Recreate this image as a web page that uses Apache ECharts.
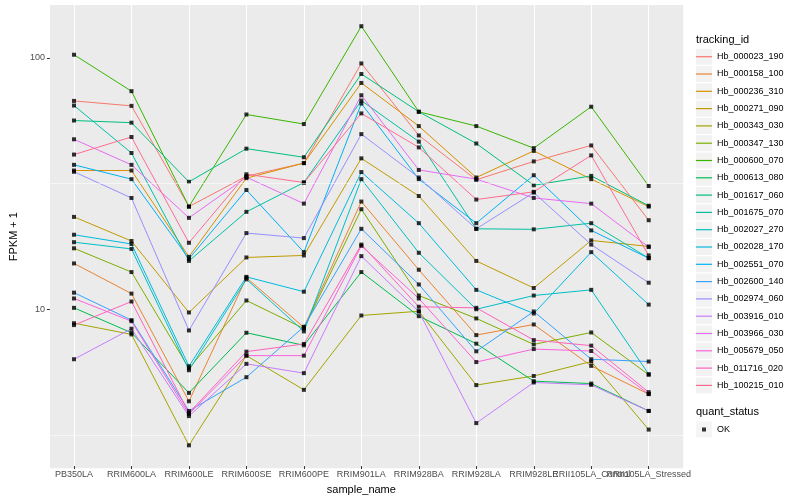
<!DOCTYPE html>
<html>
<head>
<meta charset="utf-8">
<script src="https://cdn.jsdelivr.net/npm/echarts@6/dist/echarts.min.js"></script>
<style>html,body{margin:0;padding:0;background:#fff}#c{width:800px;height:500px}</style>
</head>
<body>
<div id="c"></div>
<script>
const categories = ['PB350LA','RRIM600LA','RRIM600LE','RRIM600SE','RRIM600PE','RRIM901LA','RRIM928BA','RRIM928LA','RRIM928LE','RRII105LA_Control','RRII105LA_Stressed'];
const trackingIds = ['Hb_000023_190','Hb_000158_100','Hb_000236_310','Hb_000271_090','Hb_000343_030','Hb_000347_130','Hb_000600_070','Hb_000613_080','Hb_001617_060','Hb_001675_070','Hb_002027_270','Hb_002028_170','Hb_002551_070','Hb_002600_140','Hb_002974_060','Hb_003916_010','Hb_003966_030','Hb_005679_050','Hb_011716_020','Hb_100215_010'];
const colors = ['#F8766D','#EA8331','#D89000','#C09B00','#A3A500','#7CAE00','#39B600','#00BB4E','#00BF7D','#00C1A3','#00BFC4','#00BAE0','#00B0F6','#35A2FF','#9590FF','#C77CFF','#E76BF3','#FA62DB','#FF62BC','#FF6C91'];
const yTickValues = [10, 100];
const yMinorValues = [3.1623, 31.623];

const hb_000023_190 = [67.2, 64.2, 25.4, 33.6, 37.9, 94.9, 48.9, 32.5, 38.5, 44.6, 22.4];
const hb_000158_100 = [15.05, 11.4, 4.23, 13.2, 8.35, 26.6, 14.2, 7.78, 8.58, 5.86, 4.52];
const hb_000236_310 = [35.4, 35.4, 16.0, 33.0, 37.9, 79.3, 53.3, 33.2, 42.4, 32.7, 25.4];
const hb_000271_090 = [23.1, 18.5, 9.58, 15.9, 16.2, 39.6, 28.0, 15.4, 12.0, 18.6, 17.6];
const hb_000343_030 = [8.68, 7.83, 2.82, 6.44, 4.70, 9.32, 9.69, 4.91, 5.34, 6.10, 3.26];
const hb_000347_130 = [17.3, 13.9, 5.73, 10.7, 8.27, 24.8, 11.2, 9.07, 7.14, 7.97, 5.40];
const hb_000600_070 = [102.8, 73.5, 25.4, 59.3, 54.3, 133.7, 60.8, 53.3, 43.5, 63.7, 30.7];
const hb_000613_080 = [10.0, 7.95, 4.57, 7.95, 7.08, 13.9, 9.26, 7.19, 5.09, 4.98, 3.87];
const hb_001617_060 = [56.1, 55.0, 31.9, 43.3, 40.0, 86.1, 60.8, 45.4, 30.9, 33.7, 25.6];
const hb_001675_070 = [64.4, 41.6, 15.4, 24.2, 31.7, 67.4, 46.2, 20.7, 20.6, 21.8, 15.8];
const hb_002027_270 = [18.3, 17.2, 5.63, 13.0, 8.05, 32.7, 16.6, 9.87, 11.2, 11.8, 5.43];
const hb_002028_170 = [19.6, 18.0, 5.84, 13.3, 11.6, 34.9, 21.8, 11.8, 9.49, 16.7, 10.3];
const hb_002551_070 = [37.3, 32.7, 15.7, 29.6, 16.7, 65.6, 32.7, 21.8, 33.9, 20.4, 15.8];
const hb_002600_140 = [11.5, 8.93, 3.87, 5.28, 8.40, 20.7, 12.4, 6.70, 9.67, 6.23, 6.10];
const hb_002974_060 = [35.0, 27.5, 8.12, 19.9, 19.0, 49.5, 33.2, 20.7, 28.9, 17.9, 12.6];
const hb_003916_010 = [6.23, 8.25, 3.69, 5.97, 5.48, 16.1, 9.67, 3.46, 5.03, 4.92, 3.87];
const hb_003966_030 = [47.2, 37.3, 22.9, 33.3, 26.1, 70.8, 35.6, 32.7, 27.5, 26.1, 17.5];
const hb_005679_050 = [10.9, 8.84, 3.76, 6.44, 6.44, 17.7, 10.9, 6.07, 6.84, 6.72, 4.52];
const hb_011716_020 = [8.53, 10.6, 3.80, 6.68, 7.17, 17.9, 10.1, 10.0, 7.43, 7.06, 4.60];
const hb_100215_010 = [41.0, 48.2, 18.2, 34.2, 31.7, 59.9, 43.8, 27.1, 29.1, 40.7, 16.2];

const seriesValues = [hb_000023_190, hb_000158_100, hb_000236_310, hb_000271_090, hb_000343_030, hb_000347_130, hb_000600_070, hb_000613_080, hb_001617_060, hb_001675_070, hb_002027_270, hb_002028_170, hb_002551_070, hb_002600_140, hb_002974_060, hb_003916_010, hb_003966_030, hb_005679_050, hb_011716_020, hb_100215_010];

const FONT = 'Liberation Sans, Arial, sans-serif';
const yMin = 2.329, yMax = 162.5;

const chart = echarts.init(document.getElementById('c'), null, {renderer: 'canvas'});

const series = [];
// background minor grid lines (panel grid)
series.push({
  type: 'line', name: '_minor', xAxisIndex: 0, yAxisIndex: 0, data: [], silent: true,
  markLine: {silent: true, symbol: 'none', animation: false, label: {show: false},
    lineStyle: {color: '#FFFFFF', width: 0.55, type: 'solid'},
    emphasis: {disabled: true},
    data: yMinorValues.map(v => ({yAxis: v}))}
});
trackingIds.forEach((id, i) => {
  series.push({
    type: 'line', name: id, xAxisIndex: 1, yAxisIndex: 1,
    data: seriesValues[i], symbol: 'none', color: colors[i],
    lineStyle: {width: 1, color: colors[i]}, itemStyle: {color: colors[i]},
    emphasis: {disabled: true}, silent: true
  });
});
const okPoints = [];
seriesValues.forEach(vals => vals.forEach((v, j) => okPoints.push([categories[j], v])));
series.push({
  type: 'scatter', name: 'OK', xAxisIndex: 1, yAxisIndex: 1, data: okPoints,
  symbol: 'rect', symbolSize: 4, itemStyle: {color: '#000000'}, color: '#000000', z: 3, silent: true
});

const lineIcon = 'path://M0,0L0,0M16,16L16,16M0,7.4L16,7.4L16,8.6L0,8.6Z';
const dotIcon = 'path://M0,0L0,0M16,16L16,16M6,6L10,6L10,10L6,10Z';
const legendBase = {orient: 'vertical', left: 696, itemWidth: 16, itemHeight: 16, itemGap: 1.3, padding: 0,
  selectedMode: false, itemStyle: {borderWidth: 0}};

chart.setOption({
  animation: false,
  textStyle: {fontFamily: FONT},
  title: [
    {text: 'tracking_id', left: 696, top: 34.5, padding: 0, textStyle: {fontSize: 11, fontWeight: 'normal', color: '#000', fontFamily: FONT}},
    {text: 'quant_status', left: 696, top: 406.5, padding: 0, textStyle: {fontSize: 11, fontWeight: 'normal', color: '#000', fontFamily: FONT}}
  ],
  legend: [
    Object.assign({}, legendBase, {top: 48.7, textStyle: {fontSize: 9, color: 'rgba(0,0,0,0)', fontFamily: FONT},
      data: trackingIds.map(id => ({name: id, icon: 'rect', itemStyle: {color: '#F2F2F2', borderWidth: 0}}))}),
    Object.assign({}, legendBase, {top: 48.7, textStyle: {fontSize: 9, color: '#000', fontFamily: FONT},
      data: trackingIds.map(id => ({name: id, icon: lineIcon}))}),
    Object.assign({}, legendBase, {top: 421.5, textStyle: {fontSize: 9, color: 'rgba(0,0,0,0)', fontFamily: FONT},
      data: [{name: 'OK', icon: 'rect', itemStyle: {color: '#F2F2F2', borderWidth: 0}}]}),
    Object.assign({}, legendBase, {top: 421.5, textStyle: {fontSize: 9, color: '#000', fontFamily: FONT},
      data: [{name: 'OK', icon: dotIcon, itemStyle: {color: '#000', borderWidth: 0}}]})
  ],
  grid: [
    {left: 39.5, right: 116.8, top: 5, bottom: 31.7, show: true, backgroundColor: '#EBEBEB', borderWidth: 0, containLabel: false},
    {left: 74, right: 151.3, top: 5, bottom: 31.7, containLabel: false}
  ],
  xAxis: [
    {gridIndex: 0, type: 'value', min: 0, max: 1, show: false},
    {gridIndex: 1, type: 'category', data: categories, boundaryGap: false,
      axisLine: {show: false},
      axisTick: {show: true, length: 3, lineStyle: {color: '#333333', width: 1}},
      axisLabel: {interval: 0, fontSize: 9, color: '#4D4D4D', margin: 4, fontFamily: FONT, hideOverlap: false},
      splitLine: {show: true, lineStyle: {color: '#FFFFFF', width: 1.1}},
      name: 'sample_name', nameLocation: 'middle', nameGap: 14,
      nameTextStyle: {fontSize: 11, color: '#000', fontFamily: FONT, verticalAlign: 'top'}}
  ],
  yAxis: [
    {gridIndex: 0, type: 'log', logBase: 10, min: yMin, max: yMax,
      axisLine: {show: false},
      axisTick: {show: true, length: 3, lineStyle: {color: '#333333', width: 1}, customValues: yTickValues},
      axisLabel: {fontSize: 9, color: '#4D4D4D', margin: 5, fontFamily: FONT, customValues: yTickValues},
      splitLine: {show: true, lineStyle: {color: '#FFFFFF', width: 1.1}, showMinLine: false, showMaxLine: false},
      name: 'FPKM + 1', nameLocation: 'middle', nameGap: 21, nameRotate: 90,
      nameTextStyle: {fontSize: 11, color: '#000', fontFamily: FONT}},
    {gridIndex: 1, type: 'log', logBase: 10, min: yMin, max: yMax, show: false}
  ],
  series: series
});
</script>
</body>
</html>
